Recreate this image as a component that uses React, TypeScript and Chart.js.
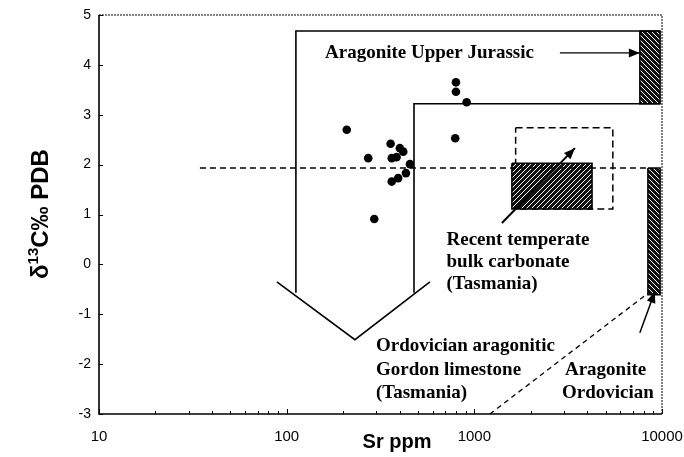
import React, { useEffect, useRef } from "react";
import { Chart, registerables } from "chart.js";

Chart.register(...registerables);

// ---- data ----
const srPpm = [209, 272, 293, 358, 401, 418, 363, 385, 454, 432, 393, 363, 798, 798, 910, 791];
const d13C = [2.7, 2.13, 0.91, 2.42, 2.33, 2.26, 2.13, 2.15, 2.01, 1.83, 1.73, 1.66, 3.65, 3.46, 3.25, 2.53];

const xTickValues = [10, 100, 1000, 10000];
const yMin = -3;
const yMax = 5;

// Gordon limestone field outlines
const gordonOuterX = [112, 112, 9770];
const gordonOuterY = [-0.57, 4.68, 4.68];
const gordonInnerX = [477, 477, 9770];
const gordonInnerY = [-0.57, 3.22, 3.22];
const chevronX = [88.7, 231, 580];
const chevronY = [-0.35, -1.51, -0.35];

// reference (dashed) line
const refLineX = [34.5, 8410];
const refLineY = [1.93, 1.93];

// Recent temperate bulk carbonate
const recentRangeX = [1660, 5470, 5470, 1660, 1660];
const recentRangeY = [2.74, 2.74, 1.11, 1.11, 2.74];
const recentBulkX = [1585, 4240, 4240, 1585, 1585];
const recentBulkY = [2.03, 2.03, 1.11, 1.11, 2.03];

// Aragonite bars
const jurassicBarX = [7620, 9770, 9770, 7620, 7620];
const jurassicBarY = [4.68, 4.68, 3.22, 3.22, 4.68];
const ordovicianBarX = [8410, 9770, 9770, 8410, 8410];
const ordovicianBarY = [1.93, 1.93, -0.61, -0.61, 1.93];

// arrows
const recentArrowX = [1403, 3435];
const recentArrowY = [0.83, 2.33];
const jurassicArrowX = [2857, 7620];
const jurassicArrowY = [4.24, 4.24];
const ordArrowX = [7620, 9160];
const ordArrowY = [-1.37, -0.55];
const ordDashX = [1211, 8610];
const ordDashY = [-3.0, -0.55];

const zip = (xs: number[], ys: number[]) => xs.map((x, i) => ({ x, y: ys[i] }));

// annotations: text and left anchor (data coords)
const notes = [
  { text: "Aragonite Upper Jurassic", x: 160, y: 4.24 },
  { text: "Recent temperate", x: 711, y: 0.49 },
  { text: "bulk carbonate", x: 711, y: 0.05 },
  { text: "(Tasmania)", x: 711, y: -0.39 },
  { text: "Ordovician aragonitic", x: 299, y: -1.63 },
  { text: "Gordon limestone", x: 299, y: -2.12 },
  { text: "(Tasmania)", x: 299, y: -2.58 },
  { text: "Aragonite", x: 3040, y: -2.12 },
  { text: "Ordovician", x: 2930, y: -2.58 },
];

function makeHatch(dir: number) {
  const c = document.createElement("canvas");
  c.width = 5;
  c.height = 5;
  const g = c.getContext("2d")!;
  g.fillStyle = "#111";
  g.fillRect(0, 0, 5, 5);
  g.strokeStyle = "#fff";
  g.lineWidth = 1;
  g.beginPath();
  if (dir > 0) {
    g.moveTo(-1, 6); g.lineTo(6, -1);
    g.moveTo(-1, 1); g.lineTo(1, -1);
    g.moveTo(4, 6); g.lineTo(6, 4);
  } else {
    g.moveTo(-1, -1); g.lineTo(6, 6);
    g.moveTo(4, -1); g.lineTo(6, 1);
    g.moveTo(-1, 4); g.lineTo(1, 6);
  }
  g.stroke();
  return g.createPattern(c, "repeat")!;
}

export default function App() {
  const ref = useRef<HTMLCanvasElement>(null);

  useEffect(() => {
    const canvas = ref.current!;
    const hatchFwd = makeHatch(1);
    const hatchBack = makeHatch(-1);

    const lineDs = (data: any, extra: any = {}) => ({
      data,
      showLine: true,
      pointRadius: 0,
      borderColor: "#000",
      borderWidth: 1.6,
      fill: false,
      tension: 0,
      order: 1,
      ...extra,
    });

    const arrowHead = (ctx: CanvasRenderingContext2D, x1: number, y1: number, x2: number, y2: number) => {
      const a = Math.atan2(y2 - y1, x2 - x1);
      const L = 11, W = 4.5;
      ctx.beginPath();
      ctx.moveTo(x2, y2);
      ctx.lineTo(x2 - L * Math.cos(a) + W * Math.sin(a), y2 - L * Math.sin(a) - W * Math.cos(a));
      ctx.lineTo(x2 - L * Math.cos(a) - W * Math.sin(a), y2 - L * Math.sin(a) + W * Math.cos(a));
      ctx.closePath();
      ctx.fillStyle = "#000";
      ctx.fill();
    };

    const decor = {
      id: "decor",
      afterDatasetsDraw(chart: any) {
        const ctx: CanvasRenderingContext2D = chart.ctx;
        const { left, right, top, bottom } = chart.chartArea;
        const xs = chart.scales.x;
        const ys = chart.scales.y;
        ctx.save();
        // frame
        ctx.strokeStyle = "#000";
        ctx.lineWidth = 1.6;
        ctx.beginPath();
        ctx.moveTo(left, top);
        ctx.lineTo(left, bottom);
        ctx.lineTo(right, bottom);
        ctx.stroke();
        ctx.lineWidth = 1;
        ctx.setLineDash([2, 1]);
        ctx.beginPath();
        ctx.moveTo(left, top);
        ctx.lineTo(right, top);
        ctx.lineTo(right, bottom);
        ctx.stroke();
        ctx.setLineDash([]);
        // tick marks
        ctx.lineWidth = 1;
        for (let v = yMin; v <= yMax; v++) {
          const py = Math.round(ys.getPixelForValue(v)) + 0.5;
          ctx.beginPath();
          ctx.moveTo(left, py);
          ctx.lineTo(left + 4, py);
          ctx.stroke();
        }
        for (let dec = 10; dec < 10000; dec *= 10) {
          for (let m = 1; m <= 10; m++) {
            const px = Math.round(xs.getPixelForValue(dec * m)) + 0.5;
            const len = m === 1 || m === 10 ? 5 : 3;
            ctx.beginPath();
            ctx.moveTo(px, bottom);
            ctx.lineTo(px, bottom - len);
            ctx.stroke();
          }
        }
        // arrow heads
        const P = (x: number, y: number) => [xs.getPixelForValue(x), ys.getPixelForValue(y)];
        const arrows = [
          [recentArrowX, recentArrowY],
          [jurassicArrowX, jurassicArrowY],
          [ordArrowX, ordArrowY],
        ];
        for (const [ax, ay] of arrows) {
          const [x1, y1] = P(ax[0], ay[0]);
          const [x2, y2] = P(ax[1], ay[1]);
          arrowHead(ctx, x1, y1, x2, y2);
        }
        // annotation text
        ctx.fillStyle = "#000";
        ctx.textBaseline = "middle";
        ctx.textAlign = "left";
        ctx.font = "bold 19px 'Liberation Serif', 'Times New Roman', serif";
        for (const n of notes) {
          const [px, py] = P(n.x, n.y);
          ctx.fillText(n.text, px, py);
        }
        // axis titles
        ctx.textAlign = "center";
        ctx.textBaseline = "alphabetic";
        ctx.font = "bold 20px 'Liberation Sans', Arial, sans-serif";
        ctx.fillText("Sr ppm", 397, 448);
        ctx.translate(48, 214);
        ctx.rotate(-Math.PI / 2);
        const big = "bold 24px 'Liberation Sans', Arial, sans-serif";
        const small = "bold 15px 'Liberation Sans', Arial, sans-serif";
        ctx.font = big;
        const wD = ctx.measureText("δ").width;
        const wRest = ctx.measureText("C‰ PDB").width;
        ctx.font = small;
        const w13 = ctx.measureText("13").width;
        const total = wD + w13 + wRest;
        let cx = -total / 2;
        ctx.textAlign = "left";
        ctx.font = big;
        ctx.fillText("δ", cx, 0);
        cx += wD;
        ctx.font = small;
        ctx.fillText("13", cx, -10);
        cx += w13;
        ctx.font = big;
        ctx.fillText("C‰ PDB", cx, 0);
        ctx.restore();
      },
    };

    const chart = new Chart(canvas, {
      type: "line",
      data: {
        datasets: [
          {
            data: zip(srPpm, d13C),
            showLine: false,
            pointRadius: 4.3,
            pointBackgroundColor: "#000",
            pointBorderColor: "#000",
            pointBorderWidth: 0,
            order: 0,
          } as any,
          lineDs(zip(gordonOuterX, gordonOuterY)),
          lineDs(zip(gordonInnerX, gordonInnerY)),
          lineDs(zip(chevronX, chevronY)),
          lineDs(zip(refLineX, refLineY), { borderDash: [6, 4], borderWidth: 1.5 }),
          lineDs(zip(recentRangeX, recentRangeY), { borderDash: [7, 4], borderWidth: 1.5, order: 3 }),
          lineDs(zip(recentBulkX, recentBulkY), { fill: "shape", backgroundColor: hatchFwd, borderWidth: 1.5, order: 2 }),
          lineDs(zip(jurassicBarX, jurassicBarY), { fill: "shape", backgroundColor: hatchBack, borderWidth: 1.5, order: 2 }),
          lineDs(zip(ordovicianBarX, ordovicianBarY), { fill: "shape", backgroundColor: hatchBack, borderWidth: 1.5, order: 2 }),
          lineDs(zip(recentArrowX, recentArrowY), { borderWidth: 2 }),
          lineDs(zip(jurassicArrowX, jurassicArrowY), { borderWidth: 1.3 }),
          lineDs(zip(ordArrowX, ordArrowY), { borderWidth: 1.5 }),
          lineDs(zip(ordDashX, ordDashY), { borderDash: [5, 4], borderWidth: 1.3 }),
        ],
      },
      options: {
        animation: false,
        responsive: false,
        devicePixelRatio: 1,
        layout: { padding: { top: 15, right: 22, left: 0, bottom: 0 } },
        plugins: { legend: { display: false }, tooltip: { enabled: false } },
        scales: {
          x: {
            type: "logarithmic",
            min: 10,
            max: 10000,
            afterBuildTicks: (s: any) => {
              s.ticks = xTickValues.map((v) => ({ value: v }));
            },
            afterFit: (s: any) => {
              s.height = 43;
              s.paddingLeft = 0;
              s.paddingRight = 0;
            },
            grid: { display: false, drawTicks: false },
            border: { display: false },
            ticks: {
              color: "#000",
              padding: 14,
              maxRotation: 0,
              autoSkip: false,
              font: { family: "'Liberation Sans', Arial, sans-serif", size: 15 },
              callback: (v: any) => String(v),
            },
          },
          y: {
            type: "linear",
            min: yMin,
            max: yMax,
            afterFit: (s: any) => {
              s.width = 99;
              s.paddingTop = 0;
              s.paddingBottom = 0;
            },
            grid: { display: false, drawTicks: false },
            border: { display: false },
            ticks: {
              color: "#000",
              stepSize: 1,
              padding: 8,
              font: { family: "'Liberation Sans', Arial, sans-serif", size: 14 },
            },
          },
        },
      } as any,
      plugins: [decor],
    });
    return () => chart.destroy();
  }, []);

  return (
    <div style={{ position: "fixed", left: 0, top: 0, width: 684, height: 457, background: "#fff" }}>
      <canvas ref={ref} width={684} height={457} style={{ display: "block" }} />
    </div>
  );
}
